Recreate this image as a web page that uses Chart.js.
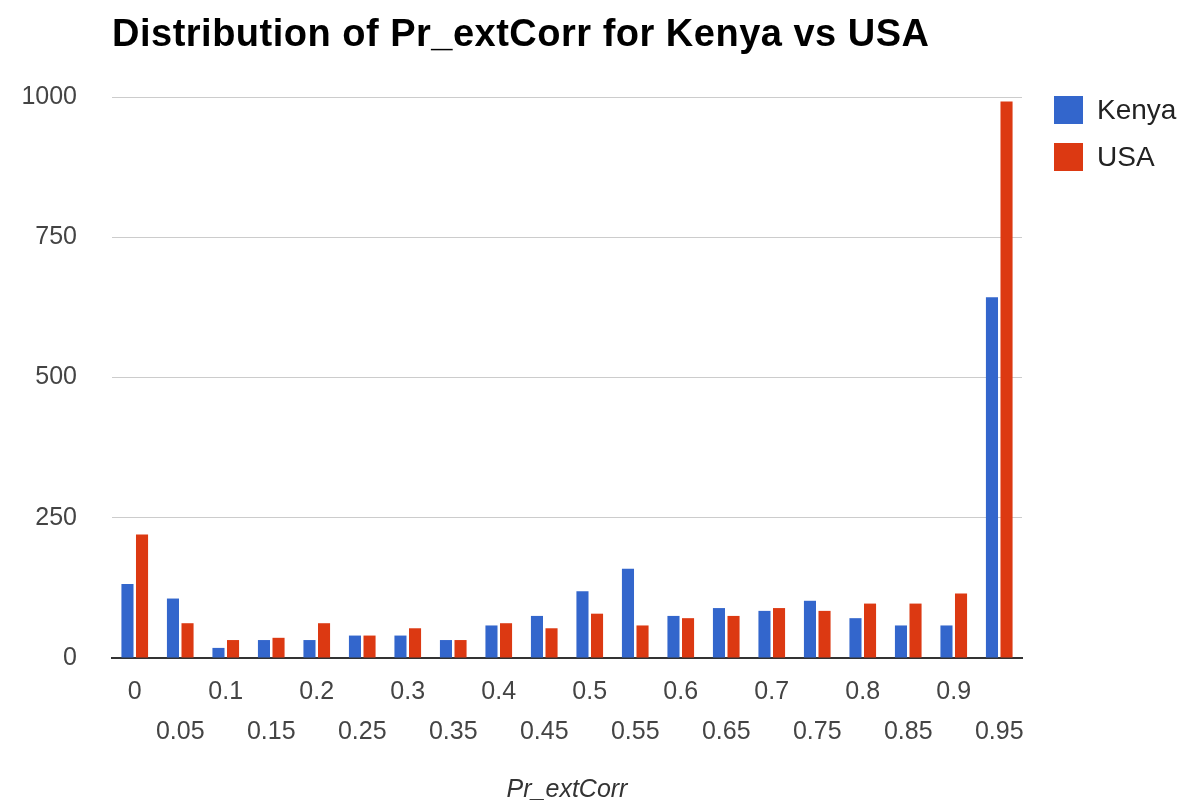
<!DOCTYPE html>
<html>
<head>
<meta charset="utf-8">
<script src="https://cdn.jsdelivr.net/npm/chart.js@4/dist/chart.umd.min.js"></script>
<style>
  html, body { margin: 0; padding: 0; background: #fff; }
  canvas { display: block; }
</style>
</head>
<body>
<canvas id="myChart" width="1185" height="805"></canvas>
<script>
const labels = ["0", "0.05", "0.1", "0.15", "0.2", "0.25", "0.3", "0.35", "0.4", "0.45",
  "0.5", "0.55", "0.6", "0.65", "0.7", "0.75", "0.8", "0.85", "0.9", "0.95"];
const kenya = [132, 106, 18, 32, 32, 40, 40, 32, 58, 75, 119, 159, 75, 89, 84, 102, 71, 58, 58, 643];
const usa = [220, 62, 32, 36, 62, 40, 53, 32, 62, 53, 79, 58, 71, 75, 89, 84, 97, 97, 115, 992];
const yTicks = [0, 250, 500, 750, 1000];

const chartTitle = "Distribution of Pr_extCorr for Kenya vs USA";
const font = "'Liberation Sans', Arial, Helvetica, sans-serif";

// title + legend drawn by hand so they sit where the original has them
const headerPlugin = {
  id: "header",
  afterDraw(chart) {
    const ctx = chart.ctx;
    const area = chart.chartArea;
    ctx.save();
    ctx.fillStyle = "#000";
    ctx.font = "bold 38px " + font;
    ctx.letterSpacing = "0.5px";
    ctx.textBaseline = "middle";
    ctx.textAlign = "left";
    ctx.fillText(chartTitle, area.left, 36);
    ctx.letterSpacing = "0px";

    ctx.font = "28px " + font;
    chart.data.datasets.forEach((ds, i) => {
      const x = area.right + 32;
      const y = area.top - 1 + i * 47;
      ctx.fillStyle = ds.backgroundColor;
      ctx.fillRect(x, y, 29, 28);
      ctx.fillStyle = "#222";
      ctx.fillText(ds.label, x + 43, y + 15);
    });
    ctx.restore();
  },
};

const ctx = document.getElementById("myChart").getContext("2d");
new Chart(ctx, {
  type: "bar",
  data: {
    labels: labels,
    datasets: [
      { label: "Kenya", data: kenya, backgroundColor: "#3366cc" },
      { label: "USA", data: usa, backgroundColor: "#dc3912" },
    ],
  },
  options: {
    responsive: false,
    animation: false,
    categoryPercentage: 0.64,
    barPercentage: 0.83,
    layout: { padding: { top: 97, right: 163, bottom: 0, left: 0 } },
    plugins: {
      legend: { display: false },
      title: { display: false },
      tooltip: { enabled: false },
    },
    scales: {
      x: {
        grid: { display: false, drawTicks: false },
        border: { display: true, color: "#333", width: 2 },
        ticks: {
          autoSkip: false,
          maxRotation: 0,
          padding: 14,
          color: "#444",
          font: { family: font, size: 25, lineHeight: 1.6 },
          callback: function (value, index) {
            const lab = this.getLabelForValue(value);
            return index % 2 === 0 ? [lab, ""] : ["", lab];
          },
        },
        title: {
          display: true,
          text: "Pr_extCorr",
          color: "#333",
          font: { family: font, size: 25, style: "italic" },
          padding: { top: 0, bottom: 0 },
        },
        afterFit(scale) {
          scale.height = 147;
        },
      },
      y: {
        min: 0,
        max: 1000,
        afterBuildTicks(scale) {
          scale.ticks = yTicks.map((v) => ({ value: v }));
        },
        grid: {
          drawTicks: false,
          color: (c) => (c.tick && c.tick.value === 0 ? "rgba(0,0,0,0)" : "#cccccc"),
          lineWidth: 1,
        },
        border: { display: false },
        ticks: {
          padding: 35,
          color: "#444",
          font: { family: font, size: 25 },
          callback: (v) => String(v),
        },
        afterFit(scale) {
          scale.width = 112;
        },
      },
    },
  },
  plugins: [headerPlugin],
});
</script>
</body>
</html>
